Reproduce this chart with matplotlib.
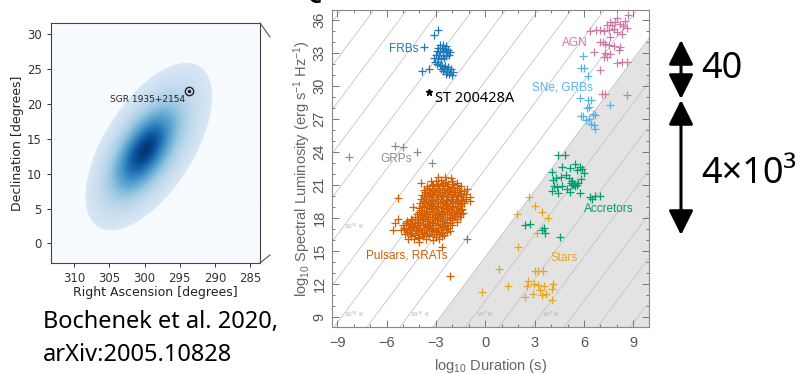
import matplotlib.pyplot as plt
import numpy as np
from matplotlib.patches import FancyArrowPatch
from matplotlib.lines import Line2D
from matplotlib.ticker import MultipleLocator

plt.rcParams['mathtext.fontset'] = 'custom'
plt.rcParams['mathtext.rm'] = 'Liberation Sans'
plt.rcParams['mathtext.it'] = 'Liberation Sans:italic'
plt.rcParams['mathtext.bf'] = 'Liberation Sans:bold'

# --- localisation map (left panel) ---
loc_peak = (300.1, 13.2)        # RA, Dec of peak probability (deg)
loc_center = (299.4, 13.9)      # centre of the credible-region ellipse
loc_semi_axes = (13.6, 6.4)     # semi-major, semi-minor (deg)
loc_angle = 58.0                # tilt of the major axis (deg)
loc_floor = 0.15                # colour level at the ellipse edge
loc_ramp = 0.30                 # broad linear rise towards the centre
loc_core = 0.55                 # height of the central peak
loc_core_width = 0.30           # peak width, in units of the ellipse size
sgr_pos = (293.73, 21.9)

# --- transient phase space (right panel): (log10 duration [s], log10 L [erg/s/Hz]) ---
frbs = [(-3.73, 33.57), (-3.12, 34.63), (-2.88, 35.09), (-3.87, 31.39), (-3.40, 31.54),
        (-2.75, 33.75), (-2.55, 33.7), (-2.4, 33.6), (-2.85, 33.45), (-2.65, 33.4),
        (-2.45, 33.35), (-2.25, 33.3), (-2.95, 33.15), (-2.75, 33.1), (-2.55, 33.15),
        (-2.35, 33.05), (-2.15, 33.1), (-3.0, 32.85), (-2.8, 32.8), (-2.6, 32.85),
        (-2.4, 32.75), (-2.2, 32.8), (-3.1, 32.55), (-2.9, 32.5), (-2.7, 32.45),
        (-2.5, 32.55), (-3.05, 32.2), (-2.85, 32.15), (-2.95, 31.95), (-2.75, 31.9),
        (-2.65, 31.8), (-2.45, 31.85), (-2.25, 31.75), (-2.7, 31.55), (-2.5, 31.6),
        (-2.3, 31.55), (-2.1, 31.5), (-2.55, 31.35), (-2.35, 31.3), (-2.15, 31.25),
        (-1.95, 31.3), (-2.4, 31.1), (-2.2, 31.05), (-2.0, 31.0)]

grps = [(-8.29, 23.56), (-5.49, 24.57), (-4.98, 24.47), (-4.17, 23.99), (-3.26, 23.02)]

pulsars = [(-2.85, 21.7), (-2.45, 21.75), (-2.1, 21.6),
           (-3.3, 21.35), (-3.0, 21.3), (-2.7, 21.4), (-2.4, 21.25), (-2.05, 21.35), (-1.75, 21.2),
           (-3.15, 21.1), (-2.85, 21.05), (-2.55, 21.15), (-2.25, 21.1), (-1.95, 21.05),
           (-3.55, 20.9), (-3.25, 20.95), (-2.95, 20.85), (-2.65, 20.95), (-2.35, 20.9),
           (-2.05, 20.8), (-1.75, 20.95), (-1.5, 20.85),
           (-3.55, 20.7), (-3.25, 20.65), (-2.95, 20.75), (-2.65, 20.7), (-2.35, 20.65),
           (-2.05, 20.75), (-1.75, 20.7),
           (-3.7, 20.5), (-3.4, 20.55), (-3.1, 20.45), (-2.8, 20.55), (-2.5, 20.5), (-2.2, 20.45),
           (-1.9, 20.55), (-1.6, 20.5), (-1.3, 20.4),
           (-3.65, 20.3), (-3.35, 20.25), (-3.05, 20.35), (-2.75, 20.3), (-2.45, 20.25),
           (-2.15, 20.35), (-1.85, 20.3), (-1.55, 20.25),
           (-3.85, 20.1), (-3.55, 20.15), (-3.25, 20.05), (-2.95, 20.15), (-2.65, 20.1),
           (-2.35, 20.05), (-2.05, 20.15), (-1.75, 20.1), (-1.45, 20.05), (-1.15, 20.15),
           (-3.75, 19.9), (-3.45, 19.95), (-3.15, 19.85), (-2.85, 19.9), (-2.55, 19.95),
           (-2.25, 19.85), (-1.95, 19.9), (-1.65, 19.95), (-1.35, 19.85),
           (-3.9, 19.7), (-3.6, 19.75), (-3.3, 19.65), (-3.0, 19.75), (-2.7, 19.7), (-2.4, 19.65),
           (-2.1, 19.75), (-1.8, 19.7), (-1.5, 19.6), (-1.2, 19.7), (-0.95, 19.5),
           (-3.8, 19.5), (-3.5, 19.45), (-3.2, 19.55), (-2.9, 19.5), (-2.6, 19.45),
           (-2.3, 19.55), (-2.0, 19.5), (-1.7, 19.45), (-1.4, 19.5),
           (-3.95, 19.3), (-3.65, 19.35), (-3.35, 19.25), (-3.05, 19.35), (-2.75, 19.3),
           (-2.45, 19.25), (-2.15, 19.35), (-1.85, 19.3), (-1.55, 19.25), (-1.3, 19.35),
           (-3.85, 19.1), (-3.55, 19.05), (-3.25, 19.15), (-2.95, 19.1), (-2.65, 19.05),
           (-2.35, 19.15), (-2.05, 19.1), (-1.75, 19.05), (-1.5, 19.1),
           (-4.05, 18.85), (-3.75, 18.95), (-3.45, 18.9), (-3.15, 18.85), (-2.85, 18.95),
           (-2.55, 18.9), (-2.25, 18.85), (-1.95, 18.95), (-1.65, 18.9), (-1.4, 18.8),
           (-3.9, 18.7), (-3.6, 18.65), (-3.3, 18.75), (-3.0, 18.7), (-2.7, 18.65),
           (-2.4, 18.75), (-2.1, 18.7), (-1.8, 18.65), (-1.5, 18.7),
           (-4.0, 18.5), (-3.7, 18.45), (-3.4, 18.55), (-3.1, 18.5), (-2.8, 18.45), (-2.5, 18.55),
           (-2.2, 18.5), (-1.9, 18.45), (-1.6, 18.55), (-1.35, 18.4),
           (-4.15, 18.3), (-3.85, 18.25), (-3.55, 18.35), (-3.25, 18.3), (-2.95, 18.25),
           (-2.65, 18.35), (-2.35, 18.3), (-2.05, 18.25), (-1.75, 18.35), (-1.45, 18.3),
           (-4.3, 18.1), (-3.95, 18.05), (-3.65, 18.15), (-3.35, 18.1), (-3.05, 18.05),
           (-2.75, 18.15), (-2.45, 18.1), (-2.15, 18.05), (-1.85, 18.15), (-1.55, 18.1),
           (-4.5, 17.9), (-4.1, 17.85), (-3.8, 17.95), (-3.5, 17.9), (-3.2, 17.85),
           (-2.9, 17.95), (-2.6, 17.9), (-2.3, 17.85), (-2.0, 17.95), (-1.7, 17.9),
           (-4.75, 17.7), (-4.45, 17.75), (-4.15, 17.65), (-3.85, 17.75), (-3.55, 17.7),
           (-3.25, 17.65), (-2.95, 17.75), (-2.65, 17.7), (-2.35, 17.65), (-2.05, 17.75), (-1.75, 17.6),
           (-4.85, 17.5), (-4.55, 17.45), (-4.25, 17.55), (-3.95, 17.5), (-3.65, 17.45),
           (-3.35, 17.55), (-3.05, 17.5), (-2.75, 17.45), (-2.45, 17.55), (-2.15, 17.5),
           (-5.0, 17.3), (-4.7, 17.35), (-4.4, 17.25), (-4.1, 17.35), (-3.8, 17.3), (-3.5, 17.25),
           (-3.2, 17.35), (-2.9, 17.3), (-2.6, 17.25), (-2.3, 17.35), (-2.0, 17.3),
           (-4.95, 17.1), (-4.65, 17.05), (-4.35, 17.15), (-4.05, 17.1), (-3.75, 17.05),
           (-3.45, 17.15), (-3.15, 17.1), (-2.85, 17.05), (-2.55, 17.15), (-2.25, 17.1),
           (-5.1, 16.9), (-4.8, 16.95), (-4.5, 16.85), (-4.2, 16.95), (-3.9, 16.9), (-3.6, 16.85),
           (-3.3, 16.95), (-3.0, 16.9), (-2.7, 16.85), (-2.4, 16.95), (-2.15, 16.8),
           (-4.75, 16.7), (-4.45, 16.65), (-4.15, 16.75), (-3.85, 16.7), (-3.55, 16.65),
           (-3.25, 16.75), (-2.95, 16.7), (-2.65, 16.65), (-2.35, 16.7),
           (-4.9, 16.5), (-4.6, 16.55), (-4.3, 16.45), (-4.0, 16.55), (-3.7, 16.5), (-3.4, 16.45),
           (-3.1, 16.55), (-2.8, 16.5), (-2.5, 16.45),
           (-4.5, 16.3), (-4.1, 16.25), (-3.8, 16.35), (-3.4, 16.3), (-3.0, 16.25), (-2.65, 16.3),
           (-4.7, 16.1), (-4.35, 16.05), (-4.0, 16.15), (-3.6, 16.1), (-3.2, 16.0), (-2.8, 16.1),
           (-5.33, 19.83), (-5.49, 17.5), (-5.6, 16.9), (-4.42, 19.0), (-2.61, 15.31),
           (-1.13, 16.05), (-2.14, 12.74), (-4.0, 15.8), (-5.3, 17.9), (-0.95, 19.9),
           (-1.1, 20.6), (-3.9, 21.2)]

agn = [(8.7, 36.45), (8.0, 36.15), (7.9, 35.8), (7.4, 35.5), (7.7, 35.5), (8.2, 35.65),
       (8.4, 35.4), (8.6, 35.25), (6.98, 35.05), (7.2, 35.0), (7.5, 35.1), (6.37, 35.0),
       (6.7, 35.05), (8.0, 34.9), (8.3, 34.75), (7.6, 34.4), (7.18, 33.95), (7.3, 33.8),
       (7.5, 33.7), (6.98, 34.0), (7.8, 33.6), (8.2, 33.5), (8.1, 33.3), (6.6, 33.1),
       (7.3, 33.0), (7.6, 32.9), (7.2, 32.65), (7.4, 32.6), (8.0, 32.1), (8.3, 32.15),
       (8.6, 32.15), (6.98, 31.45), (7.1, 29.25), (7.25, 29.3), (8.6, 29.2), (7.85, 35.2),
       (8.5, 35.9), (7.6, 35.8)]

sne_grbs = [(5.93, 32.72), (5.8, 31.6), (6.0, 31.65), (6.24, 30.9), (5.73, 28.85),
            (6.24, 28.7), (6.44, 28.75), (6.17, 27.95), (6.3, 28.1), (7.57, 28.25),
            (5.82, 27.3), (5.95, 27.25), (6.52, 27.45), (6.65, 27.35), (6.3, 27.0),
            (6.15, 26.9), (6.4, 26.55), (6.6, 26.45), (6.66, 26.1)]

accretors = [(4.44, 23.72), (4.85, 23.72), (4.65, 22.65), (5.46, 22.87), (5.77, 22.65),
             (4.04, 22.2), (5.15, 22.55), (5.55, 22.3), (5.9, 22.4), (6.0, 22.1),
             (4.1, 21.44), (4.3, 21.6), (4.6, 21.7), (4.9, 21.9), (5.1, 21.6), (5.3, 21.3),
             (5.4, 21.1), (5.25, 20.95), (5.45, 20.9), (5.6, 21.0), (5.35, 21.05), (5.2, 21.2),
             (5.65, 21.2), (5.8, 21.5), (4.35, 20.83), (4.65, 20.9), (4.95, 20.6), (5.15, 20.3),
             (4.44, 20.25), (4.04, 20.45), (4.2, 20.9), (5.77, 20.23), (6.37, 19.92),
             (6.68, 20.0), (6.98, 20.0), (6.5, 19.75), (2.42, 17.35), (2.72, 17.4),
             (3.43, 16.89), (3.55, 17.05), (3.63, 16.6), (4.55, 16.25)]

stars = [(2.68, 19.86), (3.03, 19.1), (1.91, 18.3), (3.47, 18.5), (3.79, 17.95), (2.0, 15.35),
         (0.86, 13.31), (-0.18, 11.22), (1.4, 11.83), (3.03, 13.13), (3.2, 13.13), (3.5, 13.13),
         (2.62, 12.25), (2.55, 11.8), (2.95, 11.95), (3.2, 11.9), (3.55, 11.75), (4.1, 11.95),
         (4.05, 11.55), (2.42, 10.8), (2.9, 11.1), (3.3, 11.4), (3.7, 11.05), (3.45, 10.95),
         (4.04, 10.5), (3.13, 16.6)]

st200428a = (-3.42, 29.48)

classes = [
    ('FRBs', frbs, '#1f78b8', (-4.95, 33.36)),
    ('GRPs', grps, '#8c8c8c', (-5.43, 23.3)),
    ('Pulsars, RRATs', pulsars, '#d55e00', (-4.78, 14.56)),
    ('AGN', agn, '#cc79a7', (5.42, 33.94)),
    ('SNe, GRBs', sne_grbs, '#56b4e9', (4.69, 29.87)),
    ('Accretors', accretors, '#009e73', (7.49, 18.77)),
    ('Stars', stars, '#e6a623', (4.79, 14.31)),
]

tb_lines = np.arange(-12, 56, 4)            # log10 brightness temperature (K)
tb_labels = [(32, 17.2), (24, 9.2), (16, 9.2), (8, 9.2), (0, 9.2)]
tb_coherent = 12                            # shaded below 10^12 K

W, H = 802, 374
fig = plt.figure(figsize=(W / 100, H / 100), dpi=100)


def fx(px):
    return px / W


def fy(py):
    return 1 - py / H


# ---------- left: localisation probability ----------
ax1 = fig.add_axes([fx(51), fy(263), fx(260) - fx(51), fy(23) - fy(263)])
ra = np.linspace(283.0, 314.0, 500)
dec = np.linspace(-3.5, 32.5, 500)
RA, DEC = np.meshgrid(ra, dec)
th = np.radians(loc_angle)


def ellipse_radius(ra0, dec0):
    dx = -(RA - ra0)
    dy = DEC - dec0
    u = dx * np.cos(th) + dy * np.sin(th)
    v = -dx * np.sin(th) + dy * np.cos(th)
    return np.hypot(u / loc_semi_axes[0], v / loc_semi_axes[1])


r_edge = ellipse_radius(*loc_center)
r_peak = ellipse_radius(*loc_peak)
level = (loc_floor + loc_ramp * (1 - r_edge)
         + loc_core * np.exp(-0.5 * (r_peak / loc_core_width) ** 2))
level = np.where(r_edge <= 1, level, 0.0)
ax1.imshow(level, extent=[ra[0], ra[-1], dec[0], dec[-1]], origin='lower', cmap='Blues',
           vmin=0, vmax=1, aspect='auto', interpolation='bilinear')
ax1.set_xlim(313.3, 283.6)
ax1.set_ylim(-2.8, 31.6)
ax1.plot(*sgr_pos, 'o', ms=6, mfc='none', mec='#222222', mew=1.0)
ax1.plot(*sgr_pos, '.', ms=3, color='#222222')
ax1.text(sgr_pos[0] + 0.5, sgr_pos[1] - 1.2, 'SGR 1935+2154', ha='right', va='center',
         fontsize=6.5, color='#222222')
ax1.set_xticks([310, 305, 300, 295, 290, 285])
ax1.set_yticks([0, 5, 10, 15, 20, 25, 30])
ax1.tick_params(labelsize=8.5, colors='#333333', length=3, width=0.7)
ax1.set_xlabel('Right Ascension [degrees]', fontsize=9, color='#222222', labelpad=1)
ax1.set_ylabel('Declination [degrees]', fontsize=9, color='#222222', labelpad=2)
for s in ax1.spines.values():
    s.set_color('#444444')
    s.set_linewidth(0.8)

# zoom connector stubs
fig.add_artist(Line2D([fx(260), fx(270)], [fy(23), fy(37)], color='#555555', lw=0.8))
fig.add_artist(Line2D([fx(260), fx(270)], [fy(263), fy(255)], color='#555555', lw=0.8))

# ---------- right: transient phase space ----------
ax2 = fig.add_axes([fx(332.3), fy(327), fx(649) - fx(332.3), fy(10) - fy(327)])
xlo, xhi = -9.3, 9.95
ylo, yhi = 8.06, 36.9
xs = np.array([-11.0, 12.0])
ax2.fill_between(xs, 0, 2 * xs + 2.44 + tb_coherent, color='#e3e3e3', lw=0, zorder=0)
for lt in tb_lines:
    ax2.plot(xs, 2 * xs + 2.44 + lt, color='#c4c4c4', lw=0.6, zorder=1)
for lt, yl in tb_labels:
    ax2.text((yl - 2.44 - lt) / 2 + 0.05, yl, f'$10^{{{lt}}}$ K', fontsize=4.5,
             color='#b0b0b0', ha='left', va='center', zorder=2)

for name, pts, col, lab in classes:
    px, py = zip(*pts)
    ax2.plot(px, py, '+', color=col, ms=6, mew=0.9, zorder=3)
    ax2.text(*lab, name, color=col, fontsize=8.5, ha='center', va='center',
             family='Liberation Sans', zorder=4)

ax2.plot(*st200428a, marker='*', color='black', ms=5, ls='none', zorder=5)
ax2.text(st200428a[0] + 0.36, st200428a[1] - 0.67, 'ST 200428A', fontsize=10.5,
         family='Noto Sans', color='black', ha='left', va='center', zorder=5)

ax2.set_xlim(xlo, xhi)
ax2.set_ylim(ylo, yhi)
ax2.xaxis.set_major_locator(MultipleLocator(3))
ax2.xaxis.set_minor_locator(MultipleLocator(1))
ax2.yaxis.set_major_locator(MultipleLocator(3))
ax2.yaxis.set_minor_locator(MultipleLocator(1))
ax2.tick_params(which='both', direction='in', top=True, right=True, colors='#777777',
                labelcolor='#555555', width=0.7)
ax2.tick_params(which='major', length=5, labelsize=10.5)
ax2.tick_params(axis='x', which='major', pad=6.5)
ax2.tick_params(axis='y', which='major', pad=4)
ax2.tick_params(which='minor', length=2.5)
for lbl in ax2.get_xticklabels() + ax2.get_yticklabels():
    lbl.set_family('Liberation Sans')
for lbl in ax2.get_yticklabels():
    lbl.set_rotation(90)
    lbl.set_va('center')
ax2.set_xlabel('log$_{10}$ Duration (s)', fontsize=10.5, color='#666666',
               family='Liberation Sans')
ax2.set_ylabel('log$_{10}$ Spectral Luminosity (erg s$^{-1}$ Hz$^{-1}$)', fontsize=10.5,
               color='#666666', family='Liberation Sans')
ax2.xaxis.set_label_coords(0.5, -0.094)
ax2.yaxis.set_label_coords(-0.062, 0.5)
for s in ax2.spines.values():
    s.set_color('#888888')
    s.set_linewidth(0.8)

# panel letter, mostly off the top edge
fig.text(fx(316), fy(3), 'c', fontsize=16, fontweight='bold', ha='center', va='baseline')

# ---------- annotations ----------
for y0, y1 in [(40, 99), (100, 235)]:
    fig.add_artist(FancyArrowPatch((fx(681), fy(y0)), (fx(681), fy(y1)),
                                   transform=fig.transFigure,
                                   arrowstyle='<|-|>,head_length=15,head_width=7.5',
                                   mutation_scale=1, lw=2.2, color='black',
                                   shrinkA=0, shrinkB=0))
fig.text(fx(701), fy(78.3), '40', fontsize=26, family='Noto Sans', va='baseline')
fig.text(fx(701), fy(183.3), '4×10³', fontsize=26, family='Noto Sans', va='baseline')

fig.text(fx(43), fy(328.3), 'Bochenek et al. 2020,', fontsize=17, family='Noto Sans',
         va='baseline')
fig.text(fx(43), fy(361), 'arXiv:2005.10828', fontsize=17, family='Noto Sans',
         va='baseline')

fig.savefig('out.png', dpi=100)
